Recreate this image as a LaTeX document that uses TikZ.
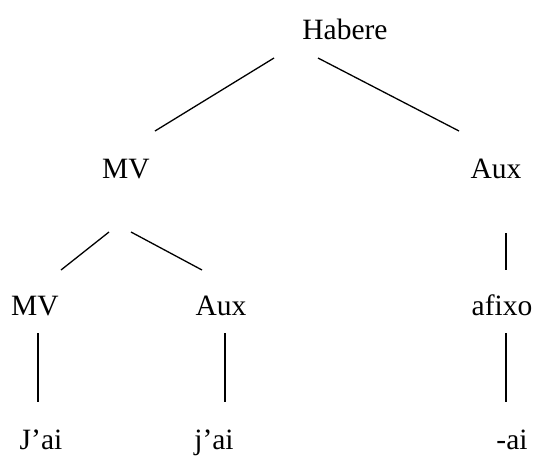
\documentclass[tikz,border=0pt]{standalone}
\usepackage{fontspec}
\setmainfont{Liberation Serif}
\begin{document}
\begin{tikzpicture}[x=1pt,y=1pt,
  lbl/.style={anchor=base,inner sep=0pt,font=\fontsize{29.5}{34}\selectfont},
  branch/.style={line width=1.3pt}]
\useasboundingbox (0,0) rectangle (535,-456);

% labels (baseline positions)
\node[lbl] (habere) at (345,-39)  {Habere};
\node[lbl] (mvA)    at (126,-178) {MV};
\node[lbl] (auxA)   at (496,-178) {Aux};
\node[lbl] (mvB)    at (35,-315)  {MV};
\node[lbl] (auxB)   at (221,-315) {Aux};
\node[lbl] (afixo)  at (502,-315) {afixo};
\node[lbl] (jai)    at (41,-449)  {J’ai};
\node[lbl] (jaiB)   at (214,-449) {j’ai};
\node[lbl] (ai)     at (512,-449) {-ai};

% branch end points
\coordinate (hL) at (274,-58);   \coordinate (mvAt) at (155,-131);
\coordinate (hR) at (318,-58);   \coordinate (auxAt) at (459,-131);
\coordinate (mvAl) at (109,-232); \coordinate (mvBt) at (61,-270);
\coordinate (mvAr) at (131,-232); \coordinate (auxBt) at (202,-270);
\coordinate (auxAb) at (506,-233); \coordinate (afixoT) at (506,-270);
\coordinate (mvBb) at (38,-333);  \coordinate (jaiT) at (38,-402);
\coordinate (auxBb) at (225,-333); \coordinate (jaiBT) at (225,-402);
\coordinate (afixoB) at (506,-333); \coordinate (aiT) at (506,-402);

% tree branches
\draw[branch] (hL) -- (mvAt);
\draw[branch] (hR) -- (auxAt);
\draw[branch] (mvAl) -- (mvBt);
\draw[branch] (mvAr) -- (auxBt);
\draw[branch] (auxAb) -- (afixoT);
\draw[branch] (mvBb) -- (jaiT);
\draw[branch] (auxBb) -- (jaiBT);
\draw[branch] (afixoB) -- (aiT);
\end{tikzpicture}
\end{document}
